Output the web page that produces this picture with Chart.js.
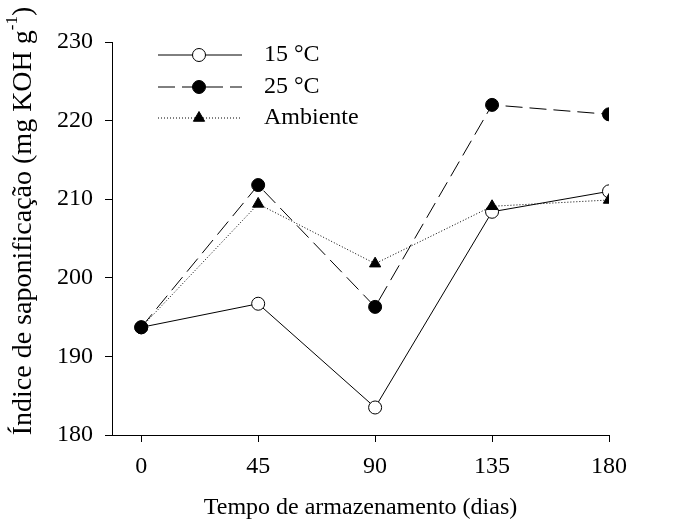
<!DOCTYPE html>
<html>
<head>
<meta charset="utf-8">
<script src="https://cdn.jsdelivr.net/npm/chart.js@4"></script>
<style>
  html, body { margin: 0; padding: 0; background: #fff; }
  #wrap { width: 680px; height: 524px; }
</style>
</head>
<body>
<div id="wrap"><canvas id="myChart" width="680" height="524"></canvas></div>
<script>
//Data:
const days = [0, 45, 90, 135, 180];
const temp15 = [193.7, 196.7, 183.5, 208.4, 211.0];
const temp25 = [193.7, 211.8, 196.3, 222.0, 220.8];
const ambiente = [193.7, 209.4, 201.8, 209.1, 209.9];
const yTicks = [180, 190, 200, 210, 220, 230];
const seriesNames = ['15 °C', '25 °C', 'Ambiente'];

const serif = "'Liberation Serif', 'Times New Roman', serif";

const toPoints = values => values.map((v, i) => ({x: days[i], y: v}));

//Custom legend and y title (line sample with a marker in the middle):
const legendPlugin = {
    id: 'figLegend',
    afterDraw(chart) {
        const ctx = chart.ctx;
        const rows = [55, 87, 118];
        chart.data.datasets.forEach((ds, i) => {
            const y = rows[i];
            ctx.save();
            ctx.strokeStyle = '#000';
            ctx.lineWidth = 1;
            ctx.setLineDash(ds.borderDash || []);
            ctx.beginPath();
            ctx.moveTo(158, y);
            ctx.lineTo(242, y);
            ctx.stroke();
            ctx.setLineDash([]);
            ctx.fillStyle = ds.pointBackgroundColor;
            Chart.helpers.drawPoint(ctx, {
                pointStyle: ds.pointStyle,
                radius: ds.pointRadius,
                rotation: 0,
                borderWidth: 1
            }, 199, y);
            ctx.fillStyle = '#000';
            ctx.font = '24px ' + serif;
            ctx.textBaseline = 'middle';
            ctx.textAlign = 'left';
            ctx.fillText(ds.label, 264, y);
            ctx.restore();
        });

        //y axis title with superscript
        ctx.save();
        ctx.translate(24, 221);
        ctx.rotate(-Math.PI / 2);
        ctx.fillStyle = '#000';
        ctx.textBaseline = 'middle';
        const main = 'Índice de saponificação (mg KOH g';
        const sup = '-1';
        const tail = ')';
        ctx.font = '28px ' + serif;
        const w1 = ctx.measureText(main).width;
        const w3 = ctx.measureText(tail).width;
        ctx.font = '17px ' + serif;
        const w2 = ctx.measureText(sup).width;
        let x = -(w1 + w2 + w3) / 2;
        ctx.font = '28px ' + serif;
        ctx.fillText(main, x, 0);
        x += w1;
        ctx.font = '17px ' + serif;
        ctx.fillText(sup, x, -11);
        x += w2;
        ctx.font = '28px ' + serif;
        ctx.fillText(tail, x, 0);
        ctx.restore();
    }
};

const ctx = document.getElementById('myChart').getContext('2d');

const chart = new Chart(ctx, {
    type: 'line',
    data: {
        datasets: [{
            label: seriesNames[0],
            data: toPoints(temp15),
            borderColor: '#000',
            borderWidth: 1,
            pointStyle: 'circle',
            pointRadius: 6.5,
            pointBackgroundColor: '#fff',
            pointBorderColor: '#000',
            pointBorderWidth: 1,
            order: 2
        }, {
            label: seriesNames[1],
            data: toPoints(temp25),
            borderColor: '#000',
            borderWidth: 1,
            borderDash: [17, 7],
            pointStyle: 'circle',
            pointRadius: 6.5,
            pointBackgroundColor: '#000',
            pointBorderColor: '#000',
            pointBorderWidth: 1,
            order: 1
        }, {
            label: seriesNames[2],
            data: toPoints(ambiente),
            borderColor: '#000',
            borderWidth: 1,
            borderDash: [1, 2],
            pointStyle: 'triangle',
            pointRadius: 6.5,
            pointBackgroundColor: '#000',
            pointBorderColor: '#000',
            pointBorderWidth: 1,
            order: 0
        }]
    },
    options: {
        responsive: false,
        animation: false,
        layout: { padding: { left: 0, top: 42, right: 71, bottom: 0 } },
        plugins: {
            legend: { display: false },
            tooltip: { enabled: false }
        },
        scales: {
            x: {
                type: 'linear',
                min: -11.25,
                max: 180,
                afterBuildTicks: scale => { scale.ticks = days.map(v => ({value: v})); },
                afterFit: scale => { scale.height = 89; },
                grid: { drawOnChartArea: false, drawTicks: true, tickLength: 7, color: '#000' },
                border: { display: true, color: '#000', width: 1 },
                ticks: { color: '#000', font: { family: serif, size: 24 }, padding: 10, maxRotation: 0 },
                title: {
                    display: true,
                    text: 'Tempo de armazenamento (dias)',
                    color: '#000',
                    font: { family: serif, size: 24 },
                    padding: { top: 0, bottom: 2 }
                }
            },
            y: {
                min: 180,
                max: 230,
                afterBuildTicks: scale => { scale.ticks = yTicks.map(v => ({value: v})); },
                afterFit: scale => { scale.width = 112; },
                grid: { drawOnChartArea: false, drawTicks: true, tickLength: 7, color: '#000' },
                border: { display: true, color: '#000', width: 1 },
                ticks: { color: '#000', font: { family: serif, size: 24 }, padding: 12 }
            }
        }
    },
    plugins: [legendPlugin]
});
</script>
</body>
</html>
